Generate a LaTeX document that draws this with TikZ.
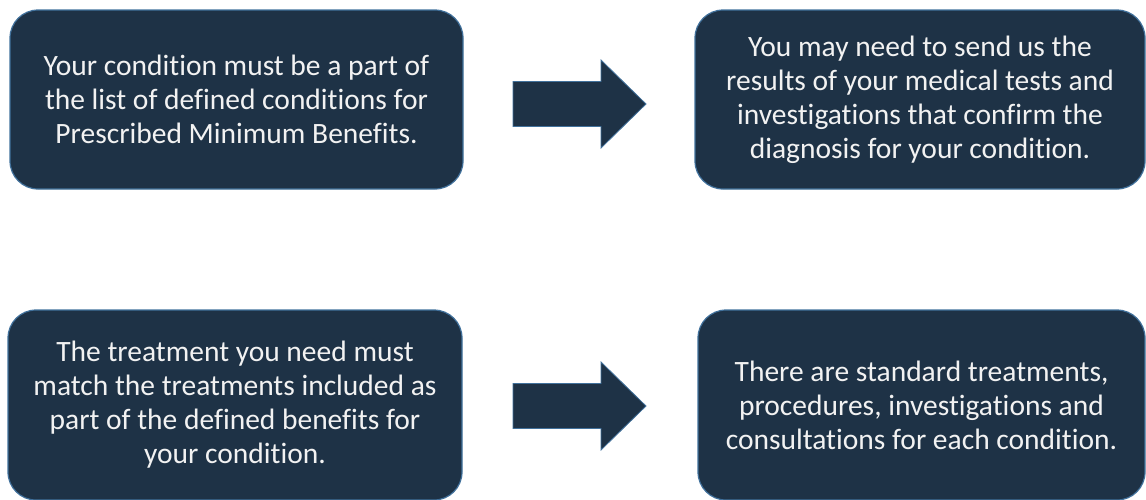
\documentclass[tikz,border=0pt]{standalone}
\usepackage{fontspec}
\setmainfont{Carlito}[RawFeature={-liga;-clig;-calt;-dlig}]
\usepackage{xcolor}
\usepackage{tikz}
\usetikzlibrary{calc, positioning, shapes}

\definecolor{navy}{HTML}{1E3246}
\definecolor{edge}{HTML}{41719C}
\definecolor{txt}{HTML}{F2F2F2}

\begin{document}
\begin{tikzpicture}[x=1pt, y=-1pt]
		\tikzstyle{boite}=[rectangle, rounded corners=28pt, fill=navy, draw=edge, line width=1.2pt, text=txt, align=center, font=\fontsize{29.5}{34}\selectfont, inner sep=0pt]
		\tikzstyle{fleche}=[fill=navy, draw=edge, line width=0.8pt, line join=miter]
		\useasboundingbox (0,0) rectangle (1146,499);

		\node[boite, minimum width=453pt, minimum height=179pt] (cond) at (236.5,99.5) {Your condition must be a part of\\the list of defined conditions for\\Prescribed Minimum Benefits.};
		\node[boite, minimum width=450pt, minimum height=179pt] (tests) at (920,99.5) {You may need to send us the\\results of your medical tests and\\investigations that confirm the\\diagnosis for your condition.};
		\node[boite, minimum width=454pt, minimum height=190pt] (treat) at (235,405) {The treatment you need must\\match the treatments included as\\part of the defined benefits for\\your condition.};
		\node[boite, minimum width=447pt, minimum height=190pt] (std) at (921.5,405) {There are standard treatments,\\procedures, investigations and\\consultations for each condition.};

		\coordinate (arr1) at (513,104);
		\coordinate (arr2) at (513,406);
		\draw[fleche] (arr1) ++(0,-22.5) -- ++(88,0) -- ++(0,-21.5) -- ++(45,44) -- ++(-45,44) -- ++(0,-21.5) -- ++(-88,0) -- cycle;
		\draw[fleche] (arr2) ++(0,-22.5) -- ++(88,0) -- ++(0,-21.5) -- ++(45,44) -- ++(-45,44) -- ++(0,-21.5) -- ++(-88,0) -- cycle;
	\end{tikzpicture}
\end{document}
